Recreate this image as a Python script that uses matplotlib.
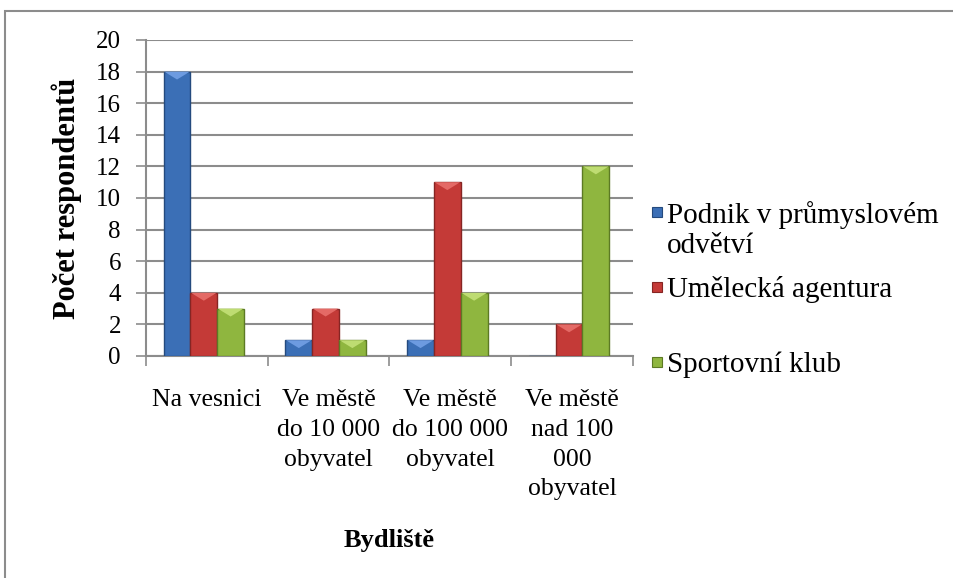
import matplotlib.pyplot as plt
from matplotlib.patches import Rectangle, Polygon
import numpy as np

plt.rcParams['font.family'] = ['Liberation Serif', 'DejaVu Serif']

categories = ["Na vesnici", "Ve městě\ndo 10 000\nobyvatel", "Ve městě\ndo 100 000\nobyvatel",
              "Ve městě\nnad 100\n000\nobyvatel"]
series = ["Podnik v průmyslovém\nodvětví", "Umělecká agentura", "Sportovní klub"]
podnik = [18, 1, 1, 0]
agentura = [4, 3, 11, 2]
sport = [3, 1, 4, 12]
values = [podnik, agentura, sport]

colors = ['#3b6fb6', '#c43a37', '#8fb63f']
edges = ['#244a7e', '#862523', '#5c7a24']
lights = ['#6d9be0', '#e46a66', '#bedc72']

fig = plt.figure(figsize=(9.54, 5.78), dpi=100)
ax = fig.add_axes([146 / 954, 1 - 356 / 578, (633 - 146) / 954, (356 - 40) / 578])

# outer chart border (only left/top visible in the reference)
fig.patches.append(Rectangle((5 / 954, -0.1), 1.2, 0.1 + (578 - 11) / 578, transform=fig.transFigure,
                             fill=False, edgecolor='#8c8c8c', linewidth=1.5))

x = np.arange(len(categories))
width = 0.22
for i, vals in enumerate(values):
    bars = ax.bar(x + (i - 1) * width - 0.025, vals, width, color=colors[i], edgecolor=edges[i],
                  linewidth=1.0, zorder=3)
    for b in bars:
        h = b.get_height()
        if h <= 0:
            continue
        bx, bw = b.get_x(), b.get_width()
        d = min(0.5, h * 0.5)
        ax.add_patch(Polygon([(bx + 0.004, h), (bx + bw - 0.004, h), (bx + bw / 2, h - d)],
                             closed=True, facecolor=lights[i], edgecolor='none', zorder=4))

ax.set_xlim(-0.5, len(categories) - 0.5)
ax.set_ylim(0, 20)
ax.set_yticks(range(0, 21, 2))
ax.set_xticks(np.arange(len(categories) + 1) - 0.5, minor=False)
ax.set_xticklabels([])
ax.set_xticks(x, minor=True)
ax.set_xticklabels(categories, minor=True, fontsize=18.5, linespacing=1.45, va='top')
ax.tick_params(axis='x', which='minor', length=0, pad=24)
ax.tick_params(axis='x', which='major', length=7, color='#8c8c8c', width=1.2)
ax.tick_params(axis='y', length=7, color='#8c8c8c', width=1.2, labelsize=18, pad=11)

ax.grid(axis='y', color='#8c8c8c', linewidth=1.5, zorder=0)
ax.set_axisbelow(True)
for s in ['top', 'right']:
    ax.spines[s].set_visible(False)
for s in ['left', 'bottom']:
    ax.spines[s].set_color('#8c8c8c')
    ax.spines[s].set_linewidth(1.5)

ax.set_ylabel("Počet respondentů", fontsize=22, fontweight='bold', labelpad=10)
fig.text((146 + 633) / 2 / 954, 1 - 540 / 578, "Bydliště", fontsize=19, fontweight='bold',
         ha='center', va='center')

# legend, laid out like the Excel one
leg_y = [212, 287, 362]
for i, name in enumerate(series):
    yc = 1 - leg_y[i] / 578
    fig.patches.append(Rectangle((652 / 954, yc - 5 / 578), 10 / 954, 10 / 578,
                                 transform=fig.transFigure, facecolor=colors[i],
                                 edgecolor=edges[i], linewidth=0.8))
    fig.text(667 / 954, yc + 11 / 578, name, fontsize=21, ha='left', va='top', linespacing=1.2)

fig.savefig("out.png", dpi=100)
